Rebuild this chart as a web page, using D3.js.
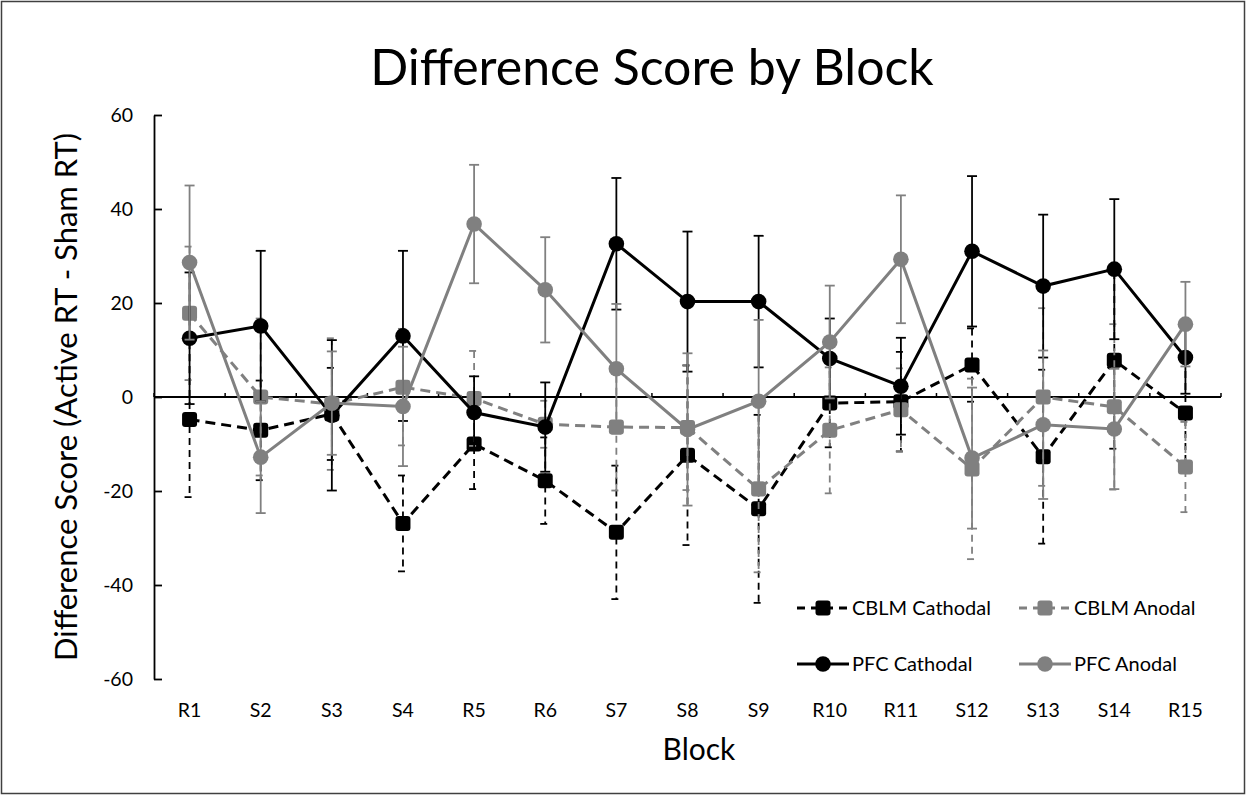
<!DOCTYPE html>
<html><head>
<meta charset="utf-8">
<title>Difference Score by Block</title>
<script src="https://d3js.org/d3.v7.min.js"></script>
<style>
  body { margin: 0; background: white; }
  svg { display: block; font-family: Lato, "Open Sans", sans-serif; }
</style>
</head>
<body>
<svg id="chart" width="1247" height="796"></svg>
<script>
// block labels along the x axis
let blocks = ["R1", "S2", "S3", "S4", "R5", "R6", "S7", "S8", "S9", "R10", "R11", "S12", "S13", "S14", "R15"];
let yTicks = [-60, -40, -20, 0, 20, 40, 60];

// means
let cblmCathodal = [-4.8, -7.1, -3.6, -26.9, -10.0, -17.8, -28.8, -12.4, -23.8, -1.3, -1.0, 6.8, -12.7, 7.8, -3.4];
let cblmAnodal   = [17.8, 0.0, -1.5, 2.1, -0.3, -5.8, -6.4, -6.5, -19.6, -7.1, -2.7, -15.3, 0.0, -2.1, -14.9];
let pfcCathodal  = [12.5, 15.1, -3.9, 13.0, -3.3, -6.4, 32.6, 20.3, 20.3, 8.2, 2.3, 31.0, 23.6, 27.2, 8.4];
let pfcAnodal    = [28.6, -12.8, -1.3, -2.0, 36.8, 22.8, 6.0, -6.9, -0.9, 11.7, 29.3, -13.0, -5.9, -6.8, 15.5];

// error bar half-lengths
let cblmCathodalErr = [16.5, 10.6, 9.8, 10.2, 9.6, 9.2, 14.2, 19.1, 20.0, 9.4, 10.6, 7.8, 18.5, 18.8, 11.5];
let cblmAnodalErr   = [14.2, 16.7, 14.0, 12.4, 10.1, 5.0, 13.5, 13.3, 17.7, 13.4, 8.8, 19.2, 18.9, 17.6, 9.6];
let pfcCathodalErr  = [14.0, 16.0, 16.0, 18.1, 7.7, 9.5, 14.0, 14.9, 14.0, 8.5, 10.3, 16.0, 15.2, 14.9, 7.7];
let pfcAnodalErr    = [16.4, 11.9, 11.0, 12.7, 12.6, 11.2, 13.8, 16.2, 17.3, 12.0, 13.6, 15.0, 15.8, 12.8, 9.0];

let seriesNames = ["CBLM Cathodal", "CBLM Anodal", "PFC Cathodal", "PFC Anodal"];

let series = [
  {name: seriesNames[0], values: cblmCathodal, errs: cblmCathodalErr, color: "#000000", dashed: true,  shape: "square"},
  {name: seriesNames[1], values: cblmAnodal,   errs: cblmAnodalErr,   color: "#808080", dashed: true,  shape: "square"},
  {name: seriesNames[2], values: pfcCathodal,  errs: pfcCathodalErr,  color: "#000000", dashed: false, shape: "circle"},
  {name: seriesNames[3], values: pfcAnodal,    errs: pfcAnodalErr,    color: "#808080", dashed: false, shape: "circle"}
];

let svg = d3.select("#chart");

// outer chart border
svg.append("rect")
    .attr("x", 1.5).attr("y", 1.5)
    .attr("width", 1243).attr("height", 792)
    .attr("fill", "white")
    .attr("stroke", "#404040")
    .attr("stroke-width", 1.5);

let x = d3.scaleBand().domain(blocks).range([154, 1221]);
let y = d3.scaleLinear().domain([-60, 60]).range([679, 115]);
let cx = d => x(d) + x.bandwidth() / 2;

// title
svg.append("text")
    .attr("x", 652).attr("y", 85)
    .attr("text-anchor", "middle")
    .style("font-size", "50px")
    .text("Difference Score by Block");

// y axis, ticks pointing into the plot (plain hyphen for negatives)
let yAxis = d3.axisLeft(y).tickValues(yTicks).tickFormat(d => String(d))
    .tickSizeInner(-8).tickSizeOuter(0).tickPadding(21);
let gy = svg.append("g").attr("transform", "translate(154,0)").call(yAxis);
gy.select(".domain").attr("stroke", "black").attr("stroke-width", 1.8);
gy.selectAll(".tick line").attr("stroke", "black").attr("stroke-width", 1.8);
gy.selectAll(".tick text").style("font-size", "19.5px").style("font-family", "Lato").attr("fill", "black");

// zero line acts as horizontal axis
svg.append("line")
    .attr("x1", 154).attr("x2", 1221)
    .attr("y1", y(0)).attr("y2", y(0))
    .attr("stroke", "black").attr("stroke-width", 1.8);

svg.selectAll(".xtick")
    .data(blocks.concat(["end"]))
    .enter().append("line")
    .attr("class", "xtick")
    .attr("x1", (d, i) => 154 + i * x.bandwidth())
    .attr("x2", (d, i) => 154 + i * x.bandwidth())
    .attr("y1", y(0)).attr("y2", y(0) - 4)
    .attr("stroke", "black").attr("stroke-width", 1.5);

// category labels along the bottom
let xAxis = d3.axisBottom(x).tickSize(0).tickPadding(24);
let gx = svg.append("g").attr("transform", "translate(0,679)").call(xAxis);
gx.select(".domain").remove();
gx.selectAll(".tick text").style("font-size", "19.5px").style("font-family", "Lato").attr("fill", "black");

// axis titles
svg.append("text")
    .attr("x", 699).attr("y", 760)
    .attr("text-anchor", "middle")
    .style("font-size", "30px")
    .text("Block");

svg.append("text")
    .attr("transform", "translate(77,397) rotate(-90)")
    .attr("text-anchor", "middle")
    .style("font-size", "31px")
    .text("Difference Score (Active RT - Sham RT)");

let line = d3.line()
    .x((d, i) => cx(blocks[i]))
    .y(d => y(d));

function drawMarker(g, shape, color, px, py) {
  if (shape === "square") {
    g.append("rect")
        .attr("x", px - 7.5).attr("y", py - 7.5)
        .attr("width", 15).attr("height", 15)
        .attr("rx", 3)
        .attr("fill", color);
  } else {
    g.append("circle")
        .attr("cx", px).attr("cy", py)
        .attr("r", 7.8)
        .attr("fill", color);
  }
}

series.forEach(s => {
  let g = svg.append("g");
  let errDash = s.dashed ? "7,5" : null;

  // error bars
  s.values.forEach((v, i) => {
    let px = cx(blocks[i]);
    let top = y(v + s.errs[i]);
    let bot = y(v - s.errs[i]);
    g.append("line")
        .attr("x1", px).attr("x2", px)
        .attr("y1", top).attr("y2", bot)
        .attr("stroke", s.color).attr("stroke-width", 1.8)
        .attr("stroke-dasharray", errDash);
    [top, bot].forEach(cy => {
      g.append("line")
          .attr("x1", px - 5).attr("x2", px + 5)
          .attr("y1", cy).attr("y2", cy)
          .attr("stroke", s.color).attr("stroke-width", 1.8)
          .attr("stroke-dasharray", errDash);
    });
  });

  // the series line
  g.append("path")
      .datum(s.values)
      .attr("d", line)
      .attr("fill", "none")
      .attr("stroke", s.color)
      .attr("stroke-width", 3)
      .attr("stroke-dasharray", s.dashed ? "10,6" : null);

  s.values.forEach((v, i) => drawMarker(g, s.shape, s.color, cx(blocks[i]), y(v)));
});

// legend, two rows by two columns
let legendCols = [797, 1019];
let legendRows = [608, 664];
series.forEach((s, i) => {
  let lx = legendCols[i % 2];
  let ly = legendRows[Math.floor(i / 2)];
  let g = svg.append("g");
  g.append("line")
      .attr("x1", lx).attr("x2", lx + 52)
      .attr("y1", ly).attr("y2", ly)
      .attr("stroke", s.color).attr("stroke-width", 3)
      .attr("stroke-dasharray", s.dashed ? "8,6" : null);
  drawMarker(g, s.shape, s.color, lx + 26, ly);
  g.append("text")
      .attr("x", lx + 55).attr("y", ly)
      .attr("dy", "0.35em")
      .style("font-size", "20px")
      .text(s.name);
});
</script>
</body>
</html>
